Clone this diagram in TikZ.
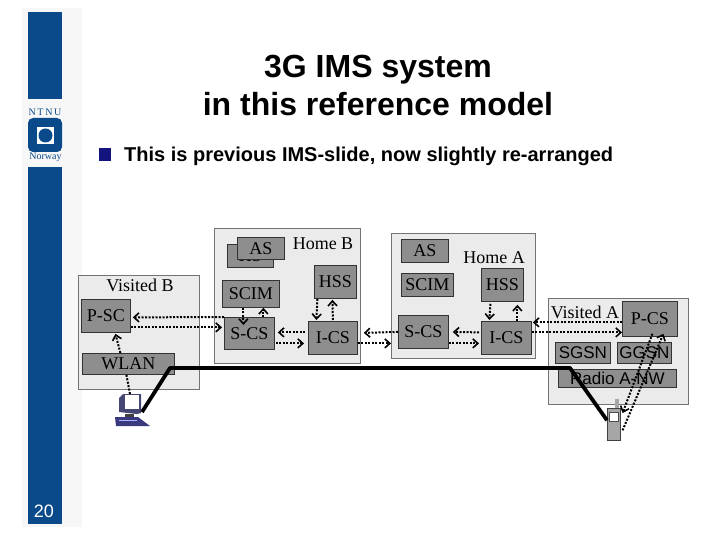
\documentclass[tikz,border=0pt]{standalone}
\usepackage{fontspec}
\setmainfont{Liberation Serif}
\newfontfamily\arialf{Liberation Sans}
\usetikzlibrary{arrows.meta}
\definecolor{ntnu}{HTML}{0B4A8A}
\definecolor{bullet}{HTML}{14147F}
\definecolor{boxg}{HTML}{8E8E8E}
\definecolor{panel}{HTML}{EBEBEB}
\tikzset{
 panelbox/.style={draw=black!55,fill=panel,line width=0.8pt,inner sep=0},
 unitbox/.style={draw=black!80,fill=boxg,line width=0.8pt,inner sep=0,font=\fontsize{18}{18}\selectfont},
 sansbox/.style={unitbox,font=\arialf\fontsize{17}{17}\selectfont},
 linkplain/.style={dash pattern=on 2pt off 1.5pt,line width=2pt},
 link/.style={linkplain,-{Straight Barb[length=5pt,width=9pt,line width=1.6pt]}},
 thickline/.style={line width=3.8pt,black,line join=round},
 label/.style={inner sep=0,font=\fontsize{18}{18}\selectfont},
}
\newcommand{\boxat}[7][unitbox]{\node[#1,minimum width=#5pt-#3pt,minimum height=#6pt-#4pt,anchor=north west] (#2) at (#3,#4) {#7};}
\begin{document}
\begin{tikzpicture}[x=1pt,y=-1pt]
\useasboundingbox (0,0) rectangle (720,540);
\fill[white] (0,0) rectangle (720,540);
% sidebar
\fill[black!3] (22,8) rectangle (82,527);
\fill[ntnu] (28,12) rectangle (62,99);
\fill[ntnu] (28,167) rectangle (62,524);
\node[inner sep=0,font=\fontsize{10}{10}\selectfont,text=ntnu] (ntnutxt) at (45,112) {N\,T\,N\,U};
\fill[ntnu,rounded corners=5pt] (28,118) rectangle (62,152);
\fill[white] (37,127) rectangle (54,144);
\fill[ntnu] (45.5,135.5) circle (7pt);
\node[inner sep=0,font=\fontsize{10}{10}\selectfont,text=ntnu] (nortxt) at (45.5,157.5) {Norway};
\node[inner sep=0,font=\arialf\fontsize{18}{18}\selectfont,text=white] (pagenum) at (44,511) {20};
% title
\node[inner sep=0,font=\arialf\bfseries\fontsize{32}{32}\selectfont] (t1) at (378,69.5) {3G IMS system};
\node[inner sep=0,font=\arialf\bfseries\fontsize{32}{32}\selectfont] (t2) at (378,104) {in this reference model};
\fill[bullet] (99,148) rectangle (111,161);
\node[inner sep=0,anchor=west,font=\arialf\bfseries\fontsize{20}{20}\selectfont] (bul) at (124,156) {This is previous IMS-slide, now slightly re-arranged};
% panels
\boxat[panelbox]{vb}{78}{275}{199}{389}{}
\boxat[panelbox]{hb}{214}{228}{360}{363}{}
\boxat[panelbox]{ha}{391}{233}{535}{358}{}
\boxat[panelbox]{va}{548}{298}{688}{404}{}
\node[label] (lvb) at (140,285) {Visited B};
\node[label] (lhb) at (323,244) {Home B};
\node[label] (lha) at (494,258) {Home A};
\node[label] (lva) at (585,312) {Visited A};
% units
\boxat{hs}{227}{244}{273}{267}{HS}
\boxat{asb}{237}{237}{284}{259}{AS}
\boxat{hssb}{314}{265}{356}{298}{HSS}
\boxat{scimb}{222}{280}{279}{307}{SCIM}
\boxat{scsb}{224}{317}{274}{349}{S-CS}
\boxat{icsb}{308}{321}{357}{354}{I-CS}
\boxat{psc}{81}{299}{130}{332}{P-SC}
\boxat{wlan}{82}{353}{174}{374}{WLAN}
\boxat{asa}{401}{239}{448}{262}{AS}
\boxat{scima}{401}{273}{453}{296}{SCIM}
\boxat{hssa}{481}{268}{523}{301}{HSS}
\boxat{scsa}{398}{315}{448}{348}{S-CS}
\boxat{icsa}{481}{321}{531}{354}{I-CS}
\boxat{pcs}{622}{301}{677}{336}{P-CS}
\boxat[sansbox]{sgsn}{555}{342}{610}{363}{SGSN}
\boxat[sansbox]{ggsn}{617}{342}{671}{363}{GGSN}
\boxat[sansbox]{radio}{558}{369}{676}{387}{Radio A-NW}
% terminal
\coordinate (termtop) at (130,394);
\coordinate (termcorner) at (142,412);
\fill[black!60!blue!45!gray] (119,398) -- (123,394) -- (141,394) -- (141,413) -- (137,414) -- (119,412) -- cycle;
\fill[white] (125,395) rectangle (139,409);
\fill[black!75] (125,414) rectangle (134,418);
\fill[black!50!blue!55!gray] (115,417) -- (138,417) -- (150,426) -- (116,426) -- cycle;
\draw[white!70!blue,line width=0.6pt] (119,420) -- (137,420);
% phone
\fill[black!35] (615,399) rectangle (619,408);
\node[draw=black!75,fill=black!35,minimum width=13pt,minimum height=32pt,inner sep=0,anchor=north west,line width=0.6pt] (phone) at (607,408) {};
\fill[white,draw=black!70] (609,412) rectangle (618,421);
% thick line
\coordinate (lbend) at (170,368);
\coordinate (rbend) at (570,368);
\draw[thickline] (termcorner) -- (lbend) -- (rbend) -- ([shift={(0,-4)}]phone.west);
% dotted connectors
\draw[link] (scsb.north west) -- ([shift={(2,1.5)}]psc.east);
\draw[link] ([shift={(0,11.5)}]psc.east) -- ([shift={(-2,-6)}]scsb.west);
\draw[link] ([shift={(-8,0)}]wlan.north) -- ([shift={(9.5,1)}]psc.south);
\draw[linkplain] (termtop) -- ([shift={(-2,0)}]wlan.south);
\draw[link] ([shift={(-7.5,0)}]scimb.south) -- ([shift={(-6,8)}]scsb.north);
\draw[link] ([shift={(14,0)}]scsb.north) -- ([shift={(12.5,0)}]scimb.south);
\draw[link] ([shift={(-3,-5.5)}]icsb.west) -- ([shift={(3,-1)}]scsb.east);
\draw[link] ([shift={(1,10)}]scsb.east) -- ([shift={(-4,5.5)}]icsb.west);
\draw[link] ([shift={(-18,0)}]hssb.south) -- ([shift={(-16.5,-1)}]icsb.north);
\draw[link] ([shift={(0,-1)}]icsb.north) -- ([shift={(-3,1)}]hssb.south);
\draw[link] (scsa.west) -- ([shift={(6,-5)}]icsb.east);
\draw[link] ([shift={(0,5.5)}]icsb.east) -- ([shift={(-7,11.5)}]scsa.west);
\draw[link] ([shift={(-2,-5.5)}]icsa.west) -- ([shift={(4,0)}]scsa.east);
\draw[link] ([shift={(0,11.5)}]scsa.east) -- ([shift={(-2,5.5)}]icsa.west);
\draw[link] ([shift={(-12,2)}]hssa.south) -- ([shift={(-17,-1)}]icsa.north);
\draw[link] ([shift={(11,0)}]icsa.north) -- ([shift={(15,3)}]hssa.south);
\draw[link] ([shift={(0,3.5)}]pcs.west) -- ([shift={(1,-15.5)}]icsa.east);
\draw[link] ([shift={(0,-5.5)}]icsa.east) -- ([shift={(0,13.5)}]pcs.west);
\draw[link] ([shift={(2.5,-3)}]pcs.south) -- ([shift={(2,5)}]phone.north east);
\draw[link] ([shift={(2,6)}]phone.east) -- ([shift={(13.5,-3)}]pcs.south);
\end{tikzpicture}
\end{document}
